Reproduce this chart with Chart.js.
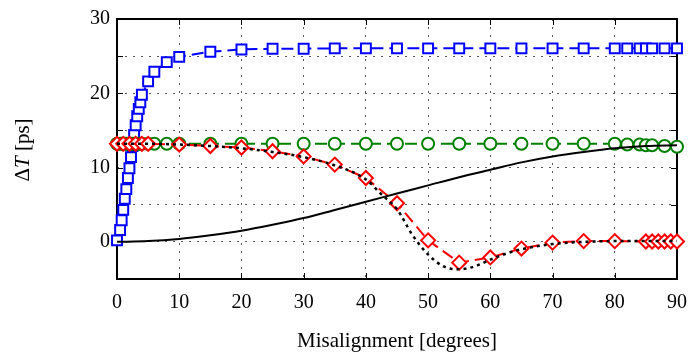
<!DOCTYPE html>
<html>
<head>
<meta charset="utf-8">
<script src="https://cdn.jsdelivr.net/npm/chart.js@4.4.0/dist/chart.umd.min.js"></script>
<style>
  html, body { margin: 0; padding: 0; background: #fff; }
  #wrap { width: 699px; height: 352px; position: relative; }
</style>
</head>
<body>
<div id="wrap"><canvas id="chartCanvas"></canvas></div>
<script>
// values
const blueX = [0, 0.5, 0.75, 1, 1.25, 1.5, 1.75, 2, 2.25, 2.5, 2.75, 3, 3.25, 3.5, 3.75, 4,
  5, 6, 8, 10, 15, 20, 25, 30, 35, 40, 45, 50, 55, 60, 65, 70, 75, 80, 82, 84, 85, 86, 88, 90];
const blueY = [0.2, 1.6, 2.9, 4.3, 5.8, 7.1, 8.6, 9.9, 11.4, 12.9, 14.4, 15.7, 16.9, 17.9, 18.8, 19.8,
  21.6, 22.9, 24.2, 24.9, 25.6, 25.9, 26.0, 26.0, 26.05, 26.05, 26.05, 26.05, 26.05, 26.05, 26.05, 26.05, 26.05, 26.05, 26.05, 26.05, 26.05, 26.05, 26.05, 26.05];

const greenX = blueX;
const greenY = [13.2, 13.2, 13.2, 13.2, 13.2, 13.2, 13.2, 13.2, 13.2, 13.2, 13.2, 13.2, 13.2, 13.2, 13.2, 13.2,
  13.2, 13.2, 13.2, 13.2, 13.2, 13.2, 13.2, 13.2, 13.2, 13.2, 13.2, 13.2, 13.2, 13.2, 13.2, 13.2, 13.2, 13.2, 13.1, 13.1, 13.0, 13.0, 12.9, 12.8];

const redX = [0, 1, 2, 3, 4, 5, 10, 15, 20, 25, 30, 35, 40, 45, 50, 55, 60, 65, 70, 75, 80, 85, 86, 87, 88, 89, 90];
const redY = [13.2, 13.2, 13.2, 13.2, 13.2, 13.2, 13.1, 12.9, 12.7, 12.2, 11.5, 10.4, 8.6, 5.2, 0.2, -2.8, -2.1, -0.9, -0.1, 0.1, 0.1, 0.05, 0.05, 0.05, 0.05, 0.05, 0.05];

const solidX = [0, 5, 10, 15, 20, 25, 30, 35, 40, 45, 50, 55, 60, 65, 70, 75, 80, 85, 90];
const solidY = [0, 0.1, 0.4, 0.9, 1.5, 2.3, 3.2, 4.3, 5.4, 6.5, 7.6, 8.7, 9.7, 10.7, 11.5, 12.1, 12.6, 12.9, 13.0];

const dotX = [0, 5, 10, 15, 20, 25, 30, 35, 40, 42.5, 45, 47.5, 50, 52.5, 55, 57.5, 60, 62.5, 65, 70, 75, 80, 85, 90];
const dotY = [13.2, 13.2, 13.1, 12.9, 12.6, 12.1, 11.4, 10.3, 8.4, 6.4, 4.4, 0.9, -1.7, -3.3, -3.7, -3.3, -2.4, -1.6, -1.0, -0.3, 0.0, 0.1, 0.1, 0.1];

const xTicks = [0, 10, 20, 30, 40, 50, 60, 70, 80, 90];
const yTicks = [0, 10, 20, 30];

const FONT = 'Liberation Serif';

function pts(xs, ys) {
  return xs.map((x, i) => ({ x: x, y: ys[i] }));
}

// box round the plot, inward tick marks, axis titles
const framePlugin = {
  id: 'frame',
  beforeDatasetsDraw(chart) {
    const ctx = chart.ctx;
    const a = chart.chartArea;
    const xs = chart.scales.x, ys = chart.scales.y;
    ctx.save();
    ctx.strokeStyle = '#000';
    ctx.lineWidth = 1;
    ctx.beginPath();
    xTicks.forEach(v => {
      const px = Math.round(xs.getPixelForValue(v)) + 0.5;
      ctx.moveTo(px, a.bottom); ctx.lineTo(px, a.bottom - 6);
      ctx.moveTo(px, a.top); ctx.lineTo(px, a.top + 6);
    });
    for (let v = -5; v <= 30; v += 5) {
      const py = Math.round(ys.getPixelForValue(v)) + 0.5;
      ctx.moveTo(a.left, py); ctx.lineTo(a.left + 6, py);
      ctx.moveTo(a.right, py); ctx.lineTo(a.right - 6, py);
    }
    ctx.stroke();
    ctx.lineWidth = 2;
    ctx.strokeRect(a.left, a.top, a.right - a.left, a.bottom - a.top);
    ctx.restore();
  },
  afterDraw(chart) {
    const ctx = chart.ctx;
    const a = chart.chartArea;
    ctx.save();
    ctx.fillStyle = '#000';
    ctx.textBaseline = 'middle';
    ctx.textAlign = 'center';
    ctx.font = '21px "' + FONT + '"';
    ctx.fillText('Misalignment [degrees]', (a.left + a.right) / 2, 341);

    // y title with italic T
    ctx.translate(23, 150);
    ctx.rotate(-Math.PI / 2);
    ctx.textAlign = 'left';
    const parts = [['Δ', ''], ['T', 'italic '], [' [ps]', '']];
    let w = 0;
    parts.forEach(p => { ctx.font = p[1] + '21px "' + FONT + '"'; w += ctx.measureText(p[0]).width; });
    let x = -w / 2;
    parts.forEach(p => {
      ctx.font = p[1] + '21px "' + FONT + '"';
      ctx.fillText(p[0], x, 0);
      x += ctx.measureText(p[0]).width;
    });
    ctx.restore();
  }
};

const common = { showLine: true, clip: false, pointBorderWidth: 2, pointBackgroundColor: '#fff', borderWidth: 2 };

const chart = new Chart(document.getElementById('chartCanvas'), {
  type: 'scatter',
  data: {
    datasets: [
      Object.assign({}, common, {
        label: 'dotted', data: pts(dotX, dotY), borderColor: '#000', borderDash: [3, 4], borderWidth: 2.5,
        pointRadius: 0, cubicInterpolationMode: 'monotone', order: 0
      }),
      Object.assign({}, common, {
        label: 'solid', data: pts(solidX, solidY), borderColor: '#000',
        pointRadius: 0, cubicInterpolationMode: 'monotone', order: 1
      }),
      Object.assign({}, common, {
        label: 'red', data: pts(redX, redY), borderColor: '#ff0000', pointBorderColor: '#ff0000',
        borderDash: [12, 6], pointStyle: 'rectRot', pointRadius: 7, order: 2
      }),
      Object.assign({}, common, {
        label: 'green', data: pts(greenX, greenY), borderColor: '#008000', pointBorderColor: '#008000',
        borderDash: [12, 6], pointStyle: 'circle', pointRadius: 6, order: 3
      }),
      Object.assign({}, common, {
        label: 'blue', data: pts(blueX, blueY), borderColor: '#0000ff', pointBorderColor: '#0000ff',
        borderDash: [12, 6], pointStyle: 'rect', pointRadius: 7, order: 4
      })
    ]
  },
  options: {
    responsive: true,
    maintainAspectRatio: false,
    animation: false,
    layout: { padding: { left: 0, right: 9, top: 17, bottom: 0 } },
    plugins: { legend: { display: false }, tooltip: { enabled: false } },
    scales: {
      x: {
        type: 'linear', min: 0, max: 90,
        afterFit: s => { s.height = 73; },
        afterBuildTicks: s => { s.ticks = xTicks.map(v => ({ value: v })); },
        ticks: { color: '#000', padding: 12, font: { family: FONT, size: 20 }, maxRotation: 0 },
        grid: { color: '#555', lineWidth: 1, drawTicks: false },
        border: { display: false, dash: [2, 6] }
      },
      y: {
        type: 'linear', min: -5, max: 30,
        afterFit: s => { s.width = 117; },
        afterBuildTicks: s => {
          const t = [];
          for (let v = -5; v <= 30; v += 5) t.push({ value: v });
          s.ticks = t;
        },
        ticks: {
          color: '#000', padding: 7, font: { family: FONT, size: 20 },
          callback: v => (yTicks.indexOf(v) >= 0 ? String(v) : '')
        },
        grid: { color: '#555', lineWidth: 1, drawTicks: false },
        border: { display: false, dash: [2, 6] }
      }
    }
  },
  plugins: [framePlugin]
});
</script>
</body>
</html>
